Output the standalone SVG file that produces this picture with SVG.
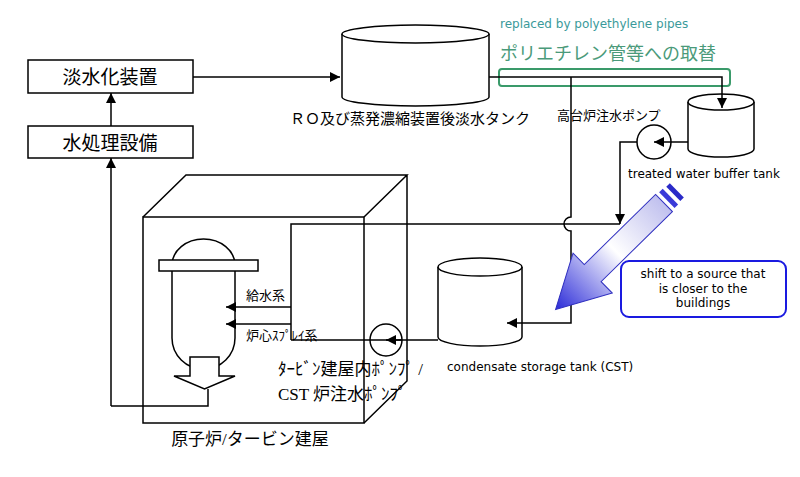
<svg xmlns="http://www.w3.org/2000/svg" width="800" height="477" viewBox="0 0 800 477">
<defs>
<style>
.s{fill:none;stroke:#000;stroke-width:1.5}
.w{fill:#fff;stroke:#000;stroke-width:1.5}
.j{font-family:"Liberation Serif","Noto Sans CJK JP",serif;fill:#000}
.e{font-family:"DejaVu Sans","Liberation Sans",sans-serif;fill:#000}
</style>
<marker id="a" viewBox="0 0 10 10" refX="10" refY="5" markerWidth="10" markerHeight="10" orient="auto" markerUnits="userSpaceOnUse"><path d="M0,0L10,5L0,10z" fill="#000"/></marker>
<linearGradient id="g" x1="0" y1="0" x2="1" y2="0"><stop offset="0" stop-color="#c0c0ee"/><stop offset="0.45" stop-color="#ffffff"/><stop offset="1" stop-color="#2a2ad8"/></linearGradient>
</defs>
<g id="desal"><rect class="w" x="28" y="60" width="165" height="33"/><text class="j" x="110" y="84" font-size="19" text-anchor="middle">淡水化装置</text></g>
<g id="water-treatment"><rect class="w" x="28" y="126" width="165" height="32"/><text class="j" x="110" y="150" font-size="19" text-anchor="middle">水処理設備</text></g>
<g id="ro-tank">
<path class="w" d="M342,34V97A73.5,9 0 0 0 489,97V34"/>
<ellipse class="w" cx="415.5" cy="34" rx="73.5" ry="9"/>
<text class="j" x="410" y="124" font-size="15" text-anchor="middle">ＲＯ及び蒸発濃縮装置後淡水タンク</text>
</g>
<g id="pipe-note">
<rect x="499" y="69" width="231" height="17" rx="3" fill="none" stroke="#3a9a6a" stroke-width="2"/>
<text class="e" x="500" y="28" font-size="12" style="fill:#3a9a9a">replaced by polyethylene pipes</text>
<text class="j" x="500" y="60" font-size="18" style="fill:#4a9a7a">ポリエチレン管等への取替</text>
</g>
<g id="buffer-tank">
<path class="w" d="M688,102V149A33,8 0 0 0 754,149V102"/>
<ellipse class="w" cx="721" cy="102" rx="33" ry="8"/>
<text class="e" x="628" y="178" font-size="12">treated water buffer tank</text>
</g>
<g id="hill-pump">
<circle class="s" cx="654" cy="142" r="17"/>
<text class="j" x="557" y="120" font-size="13">高台炉注水ポンプ</text>
</g>
<g id="building">
<rect class="s" x="143" y="217" width="221" height="206"/>
<path class="s" d="M143,217L186,175H407L364,217M407,175V381L364,423"/>
<text class="j" x="250" y="445" font-size="17" text-anchor="middle">原子炉/タービン建屋</text>
</g>
<g id="reactor">
<path class="w" d="M172,265A31.5,26 0 0 1 235,265V338A31.5,31 0 0 1 172,338Z"/>
<rect class="w" x="159" y="260" width="99" height="11"/>
<path class="w" d="M190,357H219V376H235L204.5,389L174,376H190Z"/>
<text class="j" x="246" y="300" font-size="13">給水系</text>
<text class="j" x="246" y="340" font-size="13">炉心ｽﾌﾟﾚｲ系</text>
</g>
<g id="turbine-pump">
<circle class="s" cx="386" cy="340" r="16"/>
<text class="j" x="278" y="375" font-size="17">ﾀｰﾋﾞﾝ建屋内ﾎﾟﾝﾌﾟ /</text>
<text class="j" x="278" y="400" font-size="17">CST 炉注水ﾎﾟﾝﾌﾟ</text>
</g>
<g id="cst">
<path class="w" d="M438,267V337A42,9 0 0 0 522,337V267"/>
<ellipse class="w" cx="480" cy="267" rx="42" ry="9"/>
<text class="e" x="447" y="371" font-size="12">condensate storage tank (CST)</text>
</g>
<g id="connectors">
<path class="s" d="M193,77H340" marker-end="url(#a)"/>
<path class="s" d="M111,126V93" marker-end="url(#a)"/>
<path class="s" d="M111,406V158" marker-end="url(#a)"/>
<path class="s" d="M111,406H208V389"/>
<path class="s" d="M489,77H722V108" marker-end="url(#a)"/>
<path class="s" d="M571,77V217A7,7 0 0 0 571,231V323H507" marker-end="url(#a)"/>
<path class="s" d="M688,142H654" marker-end="url(#a)"/>
<path class="s" d="M637,142H620V224" marker-end="url(#a)"/>
<path class="s" d="M620,224H291V340"/>
<path class="s" d="M291,307H226" marker-end="url(#a)"/>
<path class="s" d="M291,324H226" marker-end="url(#a)"/>
<path class="s" d="M438,340H291"/>
<path class="s" d="M402,340H386" marker-end="url(#a)"/>
</g>
<g id="shift-arrow" transform="translate(664,203) rotate(135.5)">
<polygon points="0,-12 100,-12 100,-28 152,0 100,28 100,12 0,12" fill="url(#g)" stroke="#3030c0" stroke-width="1"/>
<rect x="-9" y="-11" width="5" height="22" fill="#3a3ad8"/>
<rect x="-18" y="-10" width="5" height="20" fill="#2a2ac8"/>
</g>
<g id="callout">
<rect x="621" y="261" width="165" height="56" rx="8" fill="#fff" stroke="#1a1ae0" stroke-width="2"/>
<text class="e" x="703" y="278" font-size="12" text-anchor="middle">shift to a source that</text>
<text class="e" x="703" y="293" font-size="12" text-anchor="middle">is closer to the</text>
<text class="e" x="703" y="307" font-size="12" text-anchor="middle">buildings</text>
</g>
</svg>
